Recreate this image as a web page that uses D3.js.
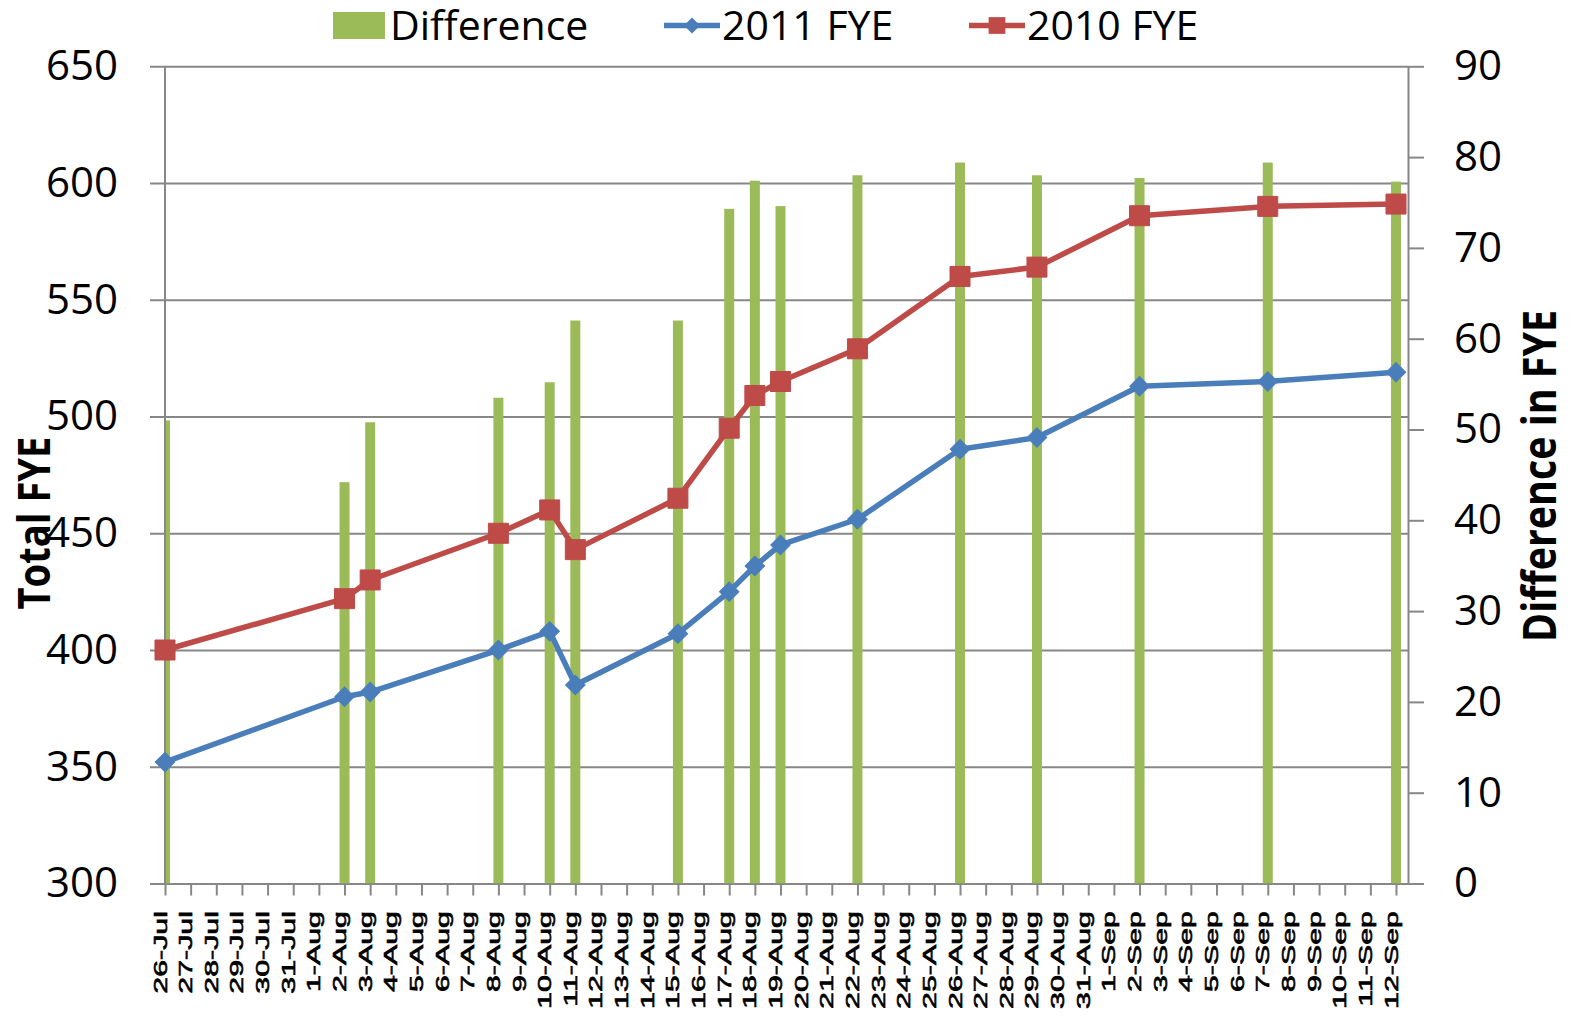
<!DOCTYPE html>
<html>
<head>
<meta charset="utf-8">
<script src="https://cdn.jsdelivr.net/npm/d3@7"></script>
<style>
  body { margin: 0; background: #fff; }
  svg { display: block; }
</style>
</head>
<body>
<div id="chart"></div>
<script>
// dates with a reading (year 2011)
var dates = ['26-Jul', '2-Aug', '3-Aug', '8-Aug', '10-Aug', '11-Aug', '15-Aug', '17-Aug',
             '18-Aug', '19-Aug', '22-Aug', '26-Aug', '29-Aug', '2-Sep', '7-Sep', '12-Sep'];
var fye2011 = [352, 380, 382, 400, 408, 385, 407, 425, 436, 445, 456, 486, 491, 513, 515, 519];
var fye2010 = [400, 422, 430, 450, 460, 443, 465, 495, 509, 515, 529, 560, 564, 586, 590, 591];
var difference = [51, 44.2, 50.8, 53.5, 55.2, 62, 62, 74.3, 77.4, 74.6, 78, 79.4, 78, 77.7, 79.4, 77.3];

var leftTicks = [300, 350, 400, 450, 500, 550, 600, 650];
var rightTicks = [0, 10, 20, 30, 40, 50, 60, 70, 80, 90];
var firstDay = '26-Jul', lastDay = '12-Sep';

var seriesNames = ['Difference', '2011 FYE', '2010 FYE'];
var leftTitle = 'Total FYE', rightTitle = 'Difference in FYE';

var W = 1573, H = 1018;
var plotLeft = 165, plotRight = 1408, plotTop = 66.3, plotBottom = 883.5;
var lastTickX = 1396;
var GREEN = '#9BBB59', BLUE = '#4A7EBB', RED = '#BE4B48', GRID = '#878787';
var NUM_FONT = '"Open Sans", "DejaVu Sans", sans-serif';

var parse = function(s) { return d3.timeParse('%d-%b-%Y')(s + '-2011'); };
var fmt = d3.timeFormat('%-d-%b');

var start = parse(firstDay), end = parse(lastDay);
var x = d3.scaleTime().domain([start, end]).range([plotLeft, lastTickX]);
var yL = d3.scaleLinear().domain([300, 650]).range([plotBottom, plotTop]);
var yR = d3.scaleLinear().domain([0, 90]).range([plotBottom, plotTop]);

var rows = dates.map(function(d, i) {
    return {date: parse(d), a: fye2011[i], b: fye2010[i], diff: difference[i]};
});

var svg = d3.select('#chart').append('svg')
    .attr('width', W)
    .attr('height', H);

svg.append('defs').append('clipPath')
    .attr('id', 'plotclip')
  .append('rect')
    .attr('x', plotLeft)
    .attr('y', plotTop)
    .attr('width', plotRight - plotLeft)
    .attr('height', plotBottom - plotTop);

// horizontal gridlines + left labels
var gridAxis = svg.append('g')
    .attr('transform', 'translate(150,0)')
    .call(d3.axisLeft(yL).tickValues(leftTicks)
          .tickSizeInner(-(plotRight - 150)).tickSizeOuter(0).tickPadding(32));
gridAxis.select('.domain').remove();
gridAxis.selectAll('line').attr('stroke', GRID).attr('stroke-width', 2);
gridAxis.selectAll('text')
    .attr('font-family', NUM_FONT)
    .attr('font-size', 42)
    .attr('fill', '#000');

// bars on the secondary axis
svg.append('g')
    .attr('clip-path', 'url(#plotclip)')
  .selectAll('rect')
    .data(rows)
  .enter().append('rect')
    .attr('x', function(d) { return x(d.date) - 5; })
    .attr('width', 10)
    .attr('y', function(d) { return yR(d.diff); })
    .attr('height', function(d) { return yR(0) - yR(d.diff); })
    .attr('fill', GREEN);

// left axis line
svg.append('line')
    .attr('x1', plotLeft).attr('x2', plotLeft)
    .attr('y1', yL(300)).attr('y2', yL(650))
    .attr('stroke', GRID).attr('stroke-width', 2);

// right axis
var rightAxis = svg.append('g')
    .attr('transform', 'translate(' + plotRight + ',0)')
    .call(d3.axisRight(yR).tickValues(rightTicks).tickSize(16).tickSizeOuter(0).tickPadding(30));
rightAxis.select('.domain').attr('stroke', GRID).attr('stroke-width', 2);
rightAxis.selectAll('line').attr('stroke', GRID).attr('stroke-width', 2);
rightAxis.selectAll('text')
    .attr('font-family', NUM_FONT)
    .attr('font-size', 42)
    .attr('fill', '#000');

// bottom axis, one tick per day
var days = d3.timeDay.range(start, d3.timeDay.offset(end, 1));
var bottomAxis = svg.append('g')
    .attr('transform', 'translate(0,' + plotBottom + ')')
    .call(d3.axisBottom(x).tickValues(days).tickFormat(fmt).tickSize(12));
bottomAxis.select('.domain').remove();
bottomAxis.selectAll('line').attr('stroke', GRID).attr('stroke-width', 2);
bottomAxis.selectAll('text')
    .attr('x', 0).attr('y', 0).attr('dy', null)
    .attr('transform', 'translate(1,' + (911 - plotBottom) + ') rotate(-90) scale(1.6,1)')
    .attr('text-anchor', 'end')
    .attr('font-family', '"Liberation Sans", Arial, sans-serif')
    .attr('font-size', 19)
    .attr('fill', '#000')
    .attr('stroke', '#000')
    .attr('stroke-width', 0.6);

// lines
function drawSeries(key, color, size, rot) {
    var line = d3.line()
        .x(function(d) { return x(d.date); })
        .y(function(d) { return yL(d[key]); });
    svg.append('path')
        .datum(rows)
        .attr('d', line)
        .attr('fill', 'none')
        .attr('stroke', color)
        .attr('stroke-width', 5.5)
        .attr('stroke-linejoin', 'round');
    svg.append('g').selectAll('path')
        .data(rows)
      .enter().append('path')
        .attr('d', d3.symbol().type(d3.symbolSquare).size(size))
        .attr('transform', function(d) {
            return 'translate(' + x(d.date) + ',' + yL(d[key]) + ') rotate(' + rot + ')';
        })
        .attr('fill', color)
        .attr('stroke', color)
        .attr('stroke-width', 1);
}
drawSeries('a', BLUE, 190, 45);
drawSeries('b', RED, 400, 0);

// axis titles
svg.append('text')
    .attr('transform', 'translate(50,523) rotate(-90)')
    .attr('text-anchor', 'middle')
    .attr('font-family', NUM_FONT)
    .attr('font-weight', 'bold')
    .attr('font-size', 45)
    .attr('textLength', 173)
    .attr('lengthAdjust', 'spacingAndGlyphs')
    .text(leftTitle);
svg.append('text')
    .attr('transform', 'translate(1556,476) rotate(-90)')
    .attr('text-anchor', 'middle')
    .attr('font-family', NUM_FONT)
    .attr('font-weight', 'bold')
    .attr('font-size', 47)
    .attr('textLength', 332)
    .attr('lengthAdjust', 'spacingAndGlyphs')
    .text(rightTitle);

// legend
var legend = svg.append('g').attr('font-family', NUM_FONT).attr('font-size', 41);
legend.append('rect')
    .attr('x', 333).attr('y', 12).attr('width', 52).attr('height', 27)
    .attr('fill', GREEN);
legend.append('text').attr('x', 390).attr('y', 39.5).text(seriesNames[0]);

[{x0: 664, color: BLUE, size: 130, rot: 45, name: seriesNames[1]},
 {x0: 969, color: RED, size: 280, rot: 0, name: seriesNames[2]}].forEach(function(s) {
    legend.append('line')
        .attr('x1', s.x0).attr('x2', s.x0 + 56)
        .attr('y1', 25.5).attr('y2', 25.5)
        .attr('stroke', s.color).attr('stroke-width', 5.5);
    legend.append('path')
        .attr('d', d3.symbol().type(d3.symbolSquare).size(s.size))
        .attr('transform', 'translate(' + (s.x0 + 28) + ',25.5) rotate(' + s.rot + ')')
        .attr('fill', s.color);
    legend.append('text').attr('x', s.x0 + 58).attr('y', 39.5).text(s.name);
});
</script>
</body>
</html>
